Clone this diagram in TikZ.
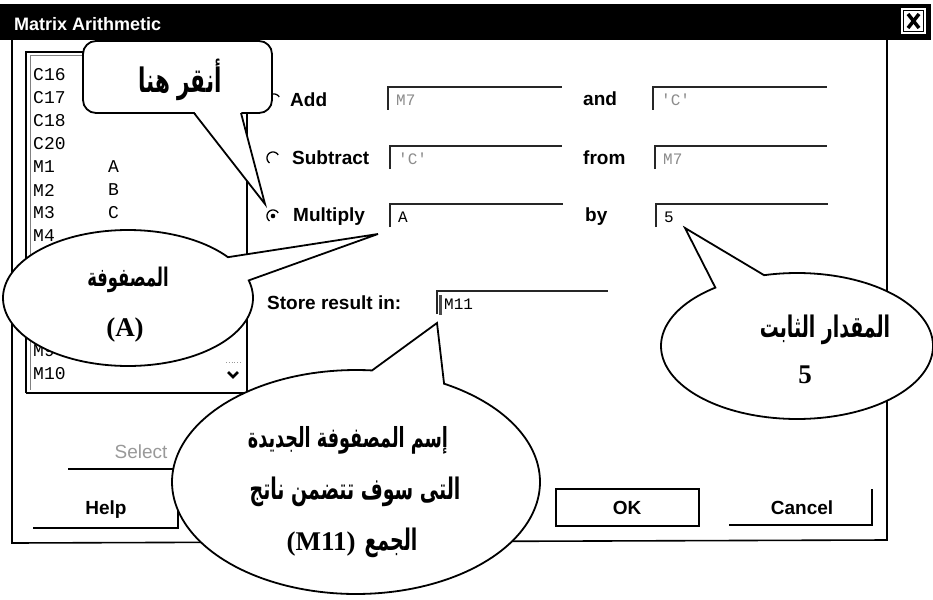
\documentclass[tikz,border=0pt]{standalone}
\usepackage{fontspec}
\newfontfamily\uifont{Liberation Sans}
\newfontfamily\monofont{Liberation Mono}
\newfontfamily\numfont{Liberation Serif}
\newfontfamily\arabicfont[Script=Arabic, FakeStretch=0.86]{DejaVu Sans}
\TeXXeTstate=1
% Arabic callout text (set tall) and bold serif numerals
\newcommand\artx[2][22]{\scalebox{1}[1.35]{\arabicfont\bfseries\fontsize{#1}{#1}\selectfont\beginR #2\endR}}
\newcommand\numtx[1]{{\numfont\bfseries\fontsize{27}{30}\selectfont #1}}

\begin{document}
\begin{tikzpicture}[x=1pt,y=-1pt,
  uilabel/.style={font=\uifont\bfseries\fontsize{19}{22}\selectfont, inner sep=0, anchor=west},
  listitem/.style={font=\monofont\fontsize{18}{20}\selectfont, inner sep=0, anchor=west},
  fieldtext/.style={font=\monofont\fontsize{16}{19}\selectfont, inner sep=0, anchor=west},
  disabled/.style={text=black!45},
  frameline/.style={line width=1.6pt},
  fieldline/.style={line width=1.5pt, black!85},
  callout/.style={draw=black, fill=white, line width=1.8pt, line join=miter},
  textline/.style={inner sep=0, align=center},
]
\useasboundingbox (0,0) rectangle (933,599);
\fill[white] (0,0) rectangle (933,599);

% ---- title bar ----
\fill[black] (0,4) rectangle (931,40);
\node[anchor=west, text=white, font=\uifont\bfseries\fontsize{18}{20}\selectfont, inner sep=0] (title) at (14,24) {Matrix Arithmetic};
\fill[white] (901,8) rectangle (926,34);
\draw[black, line width=1pt] (903.5,10.5) rectangle (923.5,31.5);
\draw[black, line width=3.5pt] (908,14) -- (919,28) (919,14) -- (908,28);

% ---- dialog frame ----
\draw[frameline] (12,40) -- (12,543) -- (887,540) -- (887,40);

% ---- list box ----
\draw[line width=1.2pt] (247,52) -- (247,393) -- (26,393);
\draw[line width=1.6pt] (26,393) -- (26,52) -- (247,52);
\draw[black!50, line width=1pt] (30,390) -- (30,56) -- (244,56);
\foreach \t [count=\i from 0] in {C16,C17,C18,C20,M1,M2,M3,M4,M5,M6,M7,M8,M9,M10}
  \node[listitem] (item\i) at (33,{75+23*\i}) {\t};
\node[listitem] (nameA) at (108,167) {A};
\node[listitem] (nameB) at (108,190) {B};
\node[listitem] (nameC) at (108,213) {C};
\draw[black!40, line width=0.8pt, dotted] (226,362) -- (241,362);
\draw[line width=2.5pt] (228,372) -- (233,377) -- (238,372);

% ---- radio buttons ----
\foreach \cx/\cy in {274/100, 273/158, 273/216}
  \draw[line width=1.3pt] plot[domain=125:330, samples=30, variable=\t] ({\cx+6*cos(\t)},{\cy+6*sin(\t)});
\fill (273,216) circle[radius=2.3];

% ---- labels ----
\node[uilabel] (add) at (290,100) {Add};
\node[uilabel] (subtract) at (292,158) {Subtract};
\node[uilabel] (multiply) at (293,217) {Multiply};
\node[uilabel] (and) at (583,99) {and};
\node[uilabel] (from) at (583,158) {from};
\node[uilabel] (by) at (585,217) {by};
\node[uilabel] (store) at (267,303) {Store result in:};

% ---- edit fields (sunken: dark top and left edges) ----
\foreach \fx/\fy/\fw in {388/87/174, 653/87/174, 390/146/172, 655/146/172, 390/204/173, 656/204/172, 437/291/171}
  \draw[fieldline] (\fx,\fy+23) -- (\fx,\fy) -- (\fx+\fw,\fy);
\node[fieldtext, disabled] (f1) at (396,100) {M7};
\node[fieldtext, disabled] (f2) at (661,100) {'C'};
\node[fieldtext, disabled] (f3) at (398,159) {'C'};
\node[fieldtext, disabled] (f4) at (663,159) {M7};
\node[fieldtext] (f5) at (398,217) {A};
\node[fieldtext] (f6) at (664,217) {5};
\node[fieldtext] (f7) at (444,304) {M11};
\draw[black!70, line width=2.2pt] (440.5,295) -- (440.5,315);

% ---- buttons ----
\node[uilabel, anchor=center, font=\uifont\fontsize{19}{22}\selectfont, text=black!40] (select) at (141,452) {Select};
\draw[line width=1.3pt] (68,469) -- (200,469);
\node[uilabel, anchor=center] (help) at (106,510) {Help};
\draw[line width=1.3pt] (33,528) -- (178,528) -- (178,488);
\draw[line width=1.3pt] (556,489) rectangle (699,526);
\node[uilabel, anchor=center] (ok) at (627,508) {OK};
\draw[line width=1.3pt] (729,525) -- (872,525) -- (872,489);
\node[uilabel, anchor=center] (cancel) at (802,508) {Cancel};

% ---- callout: rounded box pointing at the Multiply radio ----
\draw[callout, rounded corners=13pt] (218,113) -- (272,113) -- (272,41) -- (83,41) -- (83,113) -- cycle;
\fill[white] (194,111.2) -- (265,204) -- (241,111.2) -- cycle;
\draw[line width=1.8pt, line join=miter] (194,113) -- (265,204) -- (241,113);
\node[textline] (clicktxt) at (180,80) {\artx[25]{أنقر هنا}};

% ---- callout: the matrix A ----
\draw[callout] plot[domain=-15:323.1, samples=140, variable=\t] ({128+125*cos(\t)},{298+68*sin(\t)}) -- (378,234) -- cycle;
\node[textline] (matA1) at (128,280) {\artx[19]{المصفوفة}};
\node[textline] (matA2) at (125,330) {\numtx{(A)}};

% ---- callout: the constant 5 ----
\draw[callout] plot[domain=256:593.1, samples=140, variable=\t] ({797+136*cos(\t)},{346+73*sin(\t)}) -- (685,228) -- cycle;
\node[textline] (const1) at (825,330) {\artx{المقدار الثابت}};
\node[textline] (const2) at (805,375) {\numtx{5}};

% ---- callout: the result matrix ----
\draw[callout] plot[domain=298.6:635, samples=160, variable=\t] ({356+184*cos(\t)},{482+112*sin(\t)}) -- (437,323) -- cycle;
\node[textline] (res1) at (348,440) {\artx[20.5]{إسم المصفوفة الجديدة}};
\node[textline] (res2) at (355,492) {\artx{التى سوف تتضمن ناتج}};
\node[textline] (res3) at (352,543) {\numtx{(M11)}\hspace{9pt}\artx{الجمع}};
\end{tikzpicture}
\end{document}
